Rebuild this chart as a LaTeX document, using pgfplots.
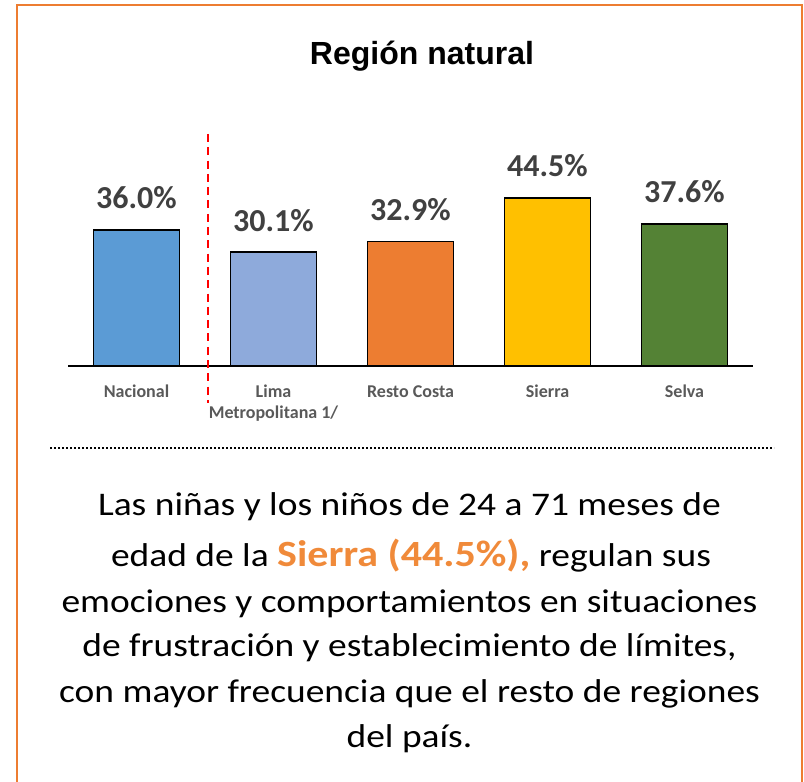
\documentclass[border=0pt]{standalone}
\usepackage{fontspec}
\setmainfont{Carlito}
\newfontfamily\arialf{Liberation Sans}
\newfontfamily\parafont[FakeStretch=1.135]{Carlito}
\usepackage{pgfplots}
\pgfplotsset{compat=1.18}
\definecolor{frameor}{HTML}{ED7D31}
\definecolor{hiorange}{HTML}{F08A3A}
\definecolor{cNac}{HTML}{5B9BD5}
\definecolor{cLima}{HTML}{8EAADB}
\definecolor{cCosta}{HTML}{ED7D31}
\definecolor{cSierra}{HTML}{FFC000}
\definecolor{cSelva}{HTML}{548235}
\definecolor{valgray}{HTML}{404040}
\definecolor{catgray}{HTML}{595959}

\begin{document}
\begin{tikzpicture}
\useasboundingbox (0pt,0pt) rectangle (804pt,782pt);
\clip (0pt,0pt) rectangle (804pt,782pt);
% frame
\draw[frameor, line width=2pt] (17pt,-20pt) -- (17pt,777pt) -- (802pt,777pt) -- (802pt,-20pt);
% title
\node[anchor=base, inner sep=0pt, font=\arialf\bfseries\fontsize{32}{38}\selectfont] at (422pt,717.7pt) {Región natural};

\begin{axis}[
  at={(68pt,416pt)}, anchor=south west,
  scale only axis, width=685pt, height=207.9pt,
  xmin=-0.5, xmax=4.5, ymin=0, ymax=55,
  ybar, bar width=86pt, bar shift=0pt,
  hide y axis,
  axis x line*=bottom,
  axis line style={line width=1.2pt},
  major tick length=0pt,
  xtick={0,1,2,3,4},
  xticklabels={\strut Nacional,{\strut Lima\\Metropolitana 1/},\strut Resto Costa,\strut Sierra,\strut Selva},
  xticklabel style={align=center, inner sep=0pt, yshift=-16pt,
    font=\bfseries\fontsize{18}{21.5}\selectfont, text=catgray},
  /pgf/number format/assume math mode=true,
  nodes near coords={\pgfmathprintnumber[fixed,fixed zerofill,precision=1]{\pgfplotspointmeta}\%},
  every node near coord/.append style={font=\bfseries\fontsize{32}{38}\selectfont,
    text=valgray, anchor=south, inner sep=0pt, yshift=20pt},
  clip=false,
]
\addplot[draw=black, line width=1.5pt, fill=cNac] coordinates {(0,36.0)};
\addplot[draw=black, line width=1.5pt, fill=cLima] coordinates {(1,30.1)};
\addplot[draw=black, line width=1.5pt, fill=cCosta] coordinates {(2,32.9)};
\addplot[draw=black, line width=1.5pt, fill=cSierra] coordinates {(3,44.5)};
\addplot[draw=black, line width=1.5pt, fill=cSelva] coordinates {(4,37.6)};
\end{axis}

% divider after Nacional
\draw[red, line width=2pt, dash pattern=on 8pt off 5.3pt] (208pt,648pt) -- (208pt,379pt);
% dotted separator
\draw[line width=2pt, dash pattern=on 1.8pt off 2.2pt] (50pt,334pt) -- (774pt,334pt);

% text
\begin{scope}[every node/.style={anchor=base, inner sep=0pt, font=\parafont\fontsize{33}{38}\selectfont}]
\node at (409.5pt,266pt) {Las niñas y los niños de 24 a 71 meses de};
\node at (411pt,215.3pt) {edad de la {\bfseries\color{hiorange}\fontsize{37}{42}\selectfont Sierra (44.5\%),} regulan sus};
\node at (409.5pt,169.3pt) {emociones y comportamientos en situaciones};
\node at (409.5pt,125.3pt) {de frustración y establecimiento de límites,};
\node at (409.5pt,79.3pt) {con mayor frecuencia que el resto de regiones};
\node at (409.5pt,34pt) {del país.};
\end{scope}
\end{tikzpicture}
\end{document}
